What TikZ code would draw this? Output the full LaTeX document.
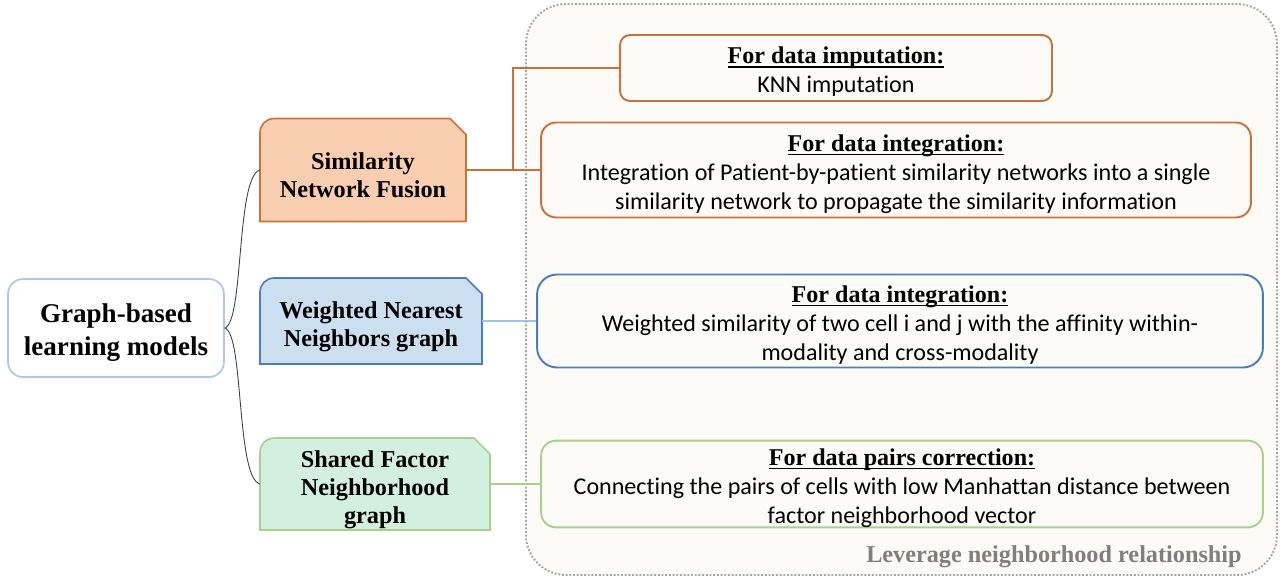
\documentclass[tikz,border=0pt]{standalone}
\usepackage{fontspec}
\setmainfont{Liberation Serif}
\newfontfamily\bodyfont[Ligatures=NoCommon]{Carlito}
\usetikzlibrary{backgrounds}

\definecolor{snffill}{HTML}{F8CDB0}
\definecolor{snfline}{HTML}{C8723A}
\definecolor{wnnfill}{HTML}{CCDFF1}
\definecolor{wnnline}{HTML}{4A7EBB}
\definecolor{wnnlink}{HTML}{9DC3E6}
\definecolor{sfnfill}{HTML}{D2EFDF}
\definecolor{sfnline}{HTML}{A6D28C}
\definecolor{rootline}{HTML}{B4C7E7}
\definecolor{panelfill}{HTML}{FCFBF8}
\definecolor{panelline}{HTML}{A6A6A6}
\definecolor{notegray}{HTML}{7F7F7F}

\newcommand{\boxhead}[1]{{\rmfamily\bfseries\rule{0pt}{14pt}\setbox0\hbox{#1}\rlap{\rule[-2.3pt]{\wd0}{.9pt}}\box0}\\}
\newcommand{\toplift}{\rule{0pt}{16pt}}

\tikzset{
  rootbox/.style={draw=rootline, line width=1pt, rounded corners=.3cm, fill=white, align=center, inner sep=0pt,
    font=\fontsize{15.4}{18.8}\selectfont\bfseries},
  catbox/.style={align=center, inner sep=0pt, outer sep=0pt, font=\fontsize{13.8}{15.9}\selectfont\bfseries},
  tagshape/.style={line width=.9pt},
  infobox/.style={draw, line width=1.1pt, rounded corners=.3cm, align=center, inner sep=0pt,
    font=\bodyfont\fontsize{13.7}{16.5}\selectfont},
  panel/.style={fill=panelfill, draw=panelline, densely dotted, line width=1.1pt, rounded corners=.8cm},
  rootlink/.style={draw=black!75, line width=.5pt},
  snflink/.style={draw=snfline, line width=1.1pt},
  wnnlink/.style={draw=wnnlink, line width=1.1pt},
  sfnlink/.style={draw=sfnline, line width=1.1pt}
}

\begin{document}
\begin{tikzpicture}[x=0.02cm, y=-0.02cm]
\useasboundingbox (0,0) rectangle (1285,579);

\node (root) [rootbox, minimum width=4.32cm, minimum height=1.96cm] at (116,328) {\toplift Graph-based\\learning models};

\node (snf) [catbox, minimum width=4.12cm, minimum height=2.06cm] at (363,170) {\toplift Similarity\\Network Fusion};
\node (wnn) [catbox, minimum width=4.44cm, minimum height=1.72cm] at (371,321) {\toplift Weighted Nearest\\Neighbors graph};
\node (sfn) [catbox, minimum width=4.6cm, minimum height=1.84cm] at (375,484) {\toplift Shared Factor\\Neighborhood\\graph};

\node (knn) [infobox, draw=snfline, minimum width=8.64cm, minimum height=1.32cm, rounded corners=.2cm] at (836,68) {\boxhead{For data imputation:}KNN imputation};
\node (integ) [infobox, draw=snfline, minimum width=14.2cm, minimum height=1.9cm] at (896,170) {\boxhead{For data integration:}Integration of Patient-by-patient similarity networks into a single\\similarity network to propagate the similarity information};
\node (wint) [infobox, draw=wnnline, minimum width=14.52cm, minimum height=1.86cm, rounded corners=.4cm] at (900,321) {\boxhead{For data integration:}Weighted similarity of two cell i and j with the affinity within-\\modality and cross-modality};
\node (pairs) [infobox, draw=sfnline, minimum width=14.44cm, minimum height=1.7cm] at (902,484) {\boxhead{For data pairs correction:}Connecting the pairs of cells with low Manhattan distance between\\factor neighborhood vector};

\node (note) [anchor=east, inner sep=0pt, text=notegray, font=\fontsize{13.8}{16}\selectfont\bfseries] at (1242,557) {Leverage neighborhood relationship};

\begin{scope}[on background layer]
  \draw [panel] (526,4) rectangle (1277,575);
  \foreach \n/\f/\l in {snf/snffill/snfline, wnn/wnnfill/wnnline, sfn/sfnfill/sfnline}
    \path [tagshape, fill=\f, draw=\l] (\n.south west) [rounded corners=.28cm] -- (\n.north west) [sharp corners] -- ([xshift=-.32cm]\n.north east) -- ([yshift=-.32cm]\n.north east) -- (\n.south east) -- cycle;
\end{scope}

\coordinate (fork) at (513,170);
\draw [snflink] (snf.east) -- (fork) |- (knn.west);
\draw [snflink] (fork) -- (integ.west);
\draw [wnnlink] (wnn.east) -- (wint.west);
\draw [sfnlink] (sfn.east) -- (pairs.west);

\draw [rootlink] (root.east) .. controls (244,322) and (236,176) .. (snf.west);
\draw [rootlink] (root.east) .. controls (244,334) and (236,478) .. (sfn.west);

\end{tikzpicture}
\end{document}
